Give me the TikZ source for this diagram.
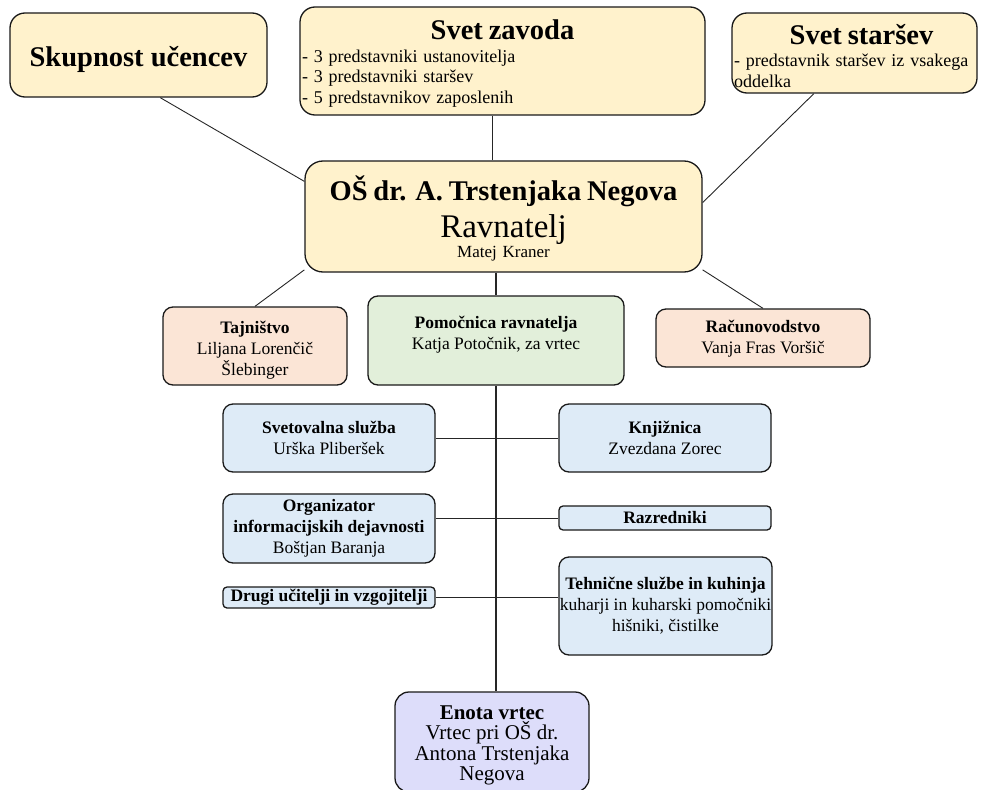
\documentclass[tikz,border=0pt]{standalone}
\usepackage{fontspec}
\setmainfont{Liberation Serif}

\definecolor{boardyellow}{HTML}{FFF2CC}
\definecolor{staffpeach}{HTML}{FBE5D6}
\definecolor{deputygreen}{HTML}{E2EFDA}
\definecolor{servblue}{HTML}{DEEBF7}
\definecolor{kinderlilac}{HTML}{DDDDFA}
\lineskiplimit=-\maxdimen

\begin{document}
\begin{tikzpicture}
        [x=1pt, y=-1pt, line join=round,
         unit/.style={draw=black!90, line width=1.3pt, align=center, inner sep=2pt,
                      rounded corners=10pt, font=\fontsize{17.5}{21}\selectfont},
         board/.style={unit, fill=boardyellow, rounded corners=15pt},
         office/.style={unit, fill=staffpeach},
         service/.style={unit, fill=servblue},
         flat/.style={service, rounded corners=4pt, font=\fontsize{17.5}{21}\selectfont\bfseries},
         link/.style={draw=black!85, line width=0.9pt}]
        \useasboundingbox (0,0) rectangle (984,789);

        % upper row
        \node[board, minimum width=257pt, minimum height=84pt, text height=24pt, text depth=0pt,
              font=\fontsize{28.5}{34}\selectfont\bfseries] (skupnost) at (138.5,55) {Skupnost učencev};
        \node[board, minimum width=405pt, minimum height=108pt, inner ysep=0pt, text width=401pt, align=left]
            (svetzavoda) at (502.5,61)
            {{\centering\fontsize{28.5}{34}\selectfont\bfseries\rule{0pt}{25pt}Svet zavoda\par}\vspace{2pt}
             \fontsize{18}{20.5}\selectfont - 3 predstavniki ustanovitelja\\
             - 3 predstavniki staršev\\
             - 5 predstavnikov zaposlenih};
        \node[board, minimum width=245pt, minimum height=80pt, inner ysep=0pt, text width=241pt, align=left]
            (svetstarsev) at (854.5,53)
            {{\centering\fontsize{28.5}{34}\selectfont\bfseries\rule{0pt}{27pt}\hspace*{14pt}Svet staršev\par}\vspace{2pt}
             \fontsize{18}{20}\selectfont - predstavnik staršev iz vsakega\\ oddelka};

        % headmaster
        \node[board, rounded corners=18pt, minimum width=397pt, minimum height=111pt, inner ysep=0pt,
              text width=393pt] (ravnatelj) at (503.5,216.5)
            {{\fontsize{28.5}{34}\selectfont\bfseries\rule{0pt}{28pt}OŠ dr. A. Trstenjaka Negova\par}
             {\fontsize{33}{37}\selectfont Ravnatelj\par}
             {\fontsize{17}{20}\selectfont Matej Kraner\par}};

        % second row
        \node[office, minimum width=184pt, minimum height=78pt] (tajnistvo) at (255,346)
            {\rule{0pt}{20pt}\textbf{Tajništvo}\\ Liljana Lorenčič\\ Šlebinger};
        \node[unit, fill=deputygreen, minimum width=256pt, minimum height=89pt] (pomocnica) at (496,340.5)
            {\rule{0pt}{17pt}\textbf{Pomočnica ravnatelja}\\ Katja Potočnik, za vrtec\\ \mbox{}};
        \node[office, minimum width=214pt, minimum height=58pt] (racunovodstvo) at (763,338)
            {\rule{0pt}{14pt}\textbf{Računovodstvo}\\ Vanja Fras Voršič};

        % services
        \node[service, minimum width=212pt, minimum height=68pt] (svetovalna) at (329,438)
            {\textbf{Svetovalna služba}\\ Urška Pliberšek};
        \node[service, minimum width=212pt, minimum height=68pt] (knjiznica) at (665,438)
            {\textbf{Knjižnica}\\ Zvezdana Zorec};
        \node[service, minimum width=212pt, minimum height=69pt] (organizator) at (329,528.5)
            {\textbf{Organizator}\\ \textbf{informacijskih dejavnosti}\\ Boštjan Baranja};
        \node[flat, minimum width=212pt, minimum height=24pt] (razredniki) at (665,518) {Razredniki};
        \node[flat, minimum width=212pt, minimum height=21pt] (drugi) at (329,597.5) {Drugi učitelji in vzgojitelji};
        \node[service, inner xsep=0pt, minimum width=213pt, minimum height=98pt] (tehnicne) at (665.5,606)
            {\textbf{Tehnične službe in kuhinja}\\ kuharji in kuharski pomočniki\\ hišniki, čistilke};

        % kindergarten
        \node[unit, fill=kinderlilac, rounded corners=14pt, minimum width=194pt, minimum height=100pt,
              font=\fontsize{21}{20.5}\selectfont] (enota) at (492,742)
            {\rule{0pt}{21pt}\textbf{Enota vrtec}\\ Vrtec pri OŠ dr.\\ Antona Trstenjaka\\ Negova};

        \path [link] (skupnost.-63) edge (ravnatelj.170);
        \path [link] (svetzavoda.-100) edge (svetzavoda.-100 |- ravnatelj.north);
        \path [link] (svetstarsev.-135) edge (ravnatelj.4);
        \path [link] (ravnatelj.-165) edge (tajnistvo.north);
        \path [link] (ravnatelj.-15) edge (racunovodstvo.north);
        \path [link, line width=1.3pt] (pomocnica.north |- ravnatelj.south) edge (pomocnica.north);
        \path [link, line width=1.3pt] (pomocnica.south) edge (pomocnica.south |- enota.north);
        \path [link] (svetovalna.east) edge (knjiznica.west);
        \path [link] (organizator.east |- razredniki.west) edge (razredniki.west);
        \path [link] (drugi.east) edge (drugi.east -| tehnicne.west);
\end{tikzpicture}
\end{document}
